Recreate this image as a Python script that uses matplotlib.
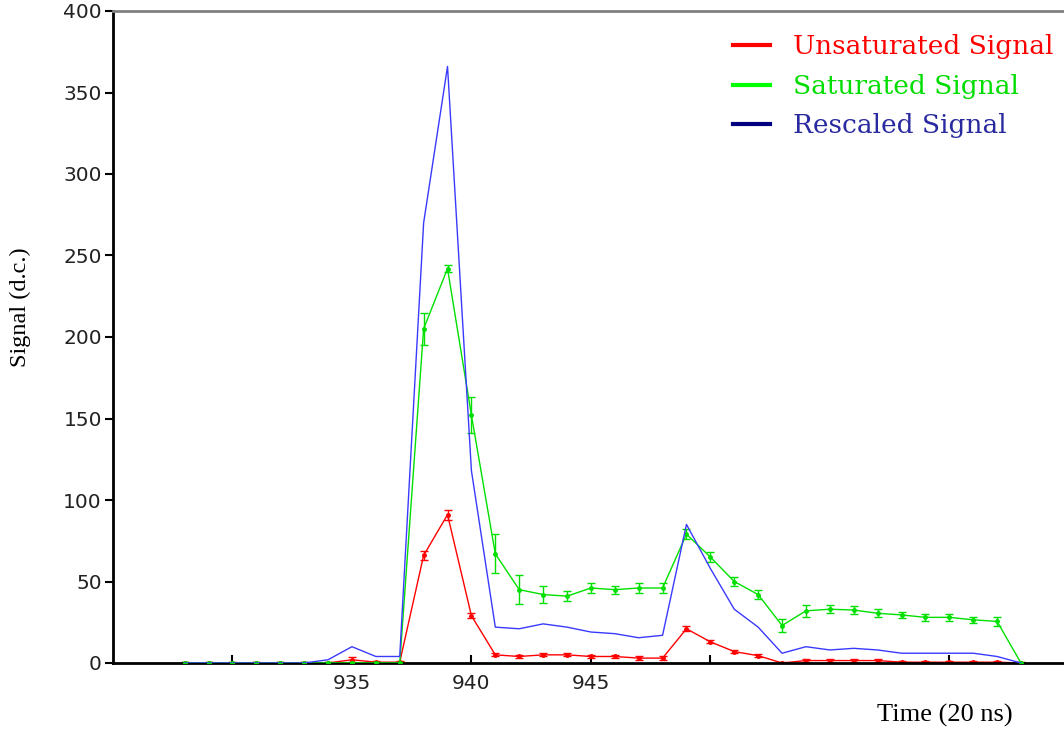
import numpy as np
import matplotlib
matplotlib.use("Agg")
import matplotlib.pyplot as plt
from matplotlib.lines import Line2D

# time bins (20 ns)
t = np.arange(928, 964)

unsat = [0, 0, 0, 0, 0, 0, 0, 2, 0.5, 0.5, 66, 91, 29, 5, 4, 5, 5, 4, 4, 3, 3,
         21, 13, 7, 4.5, 0, 1.5, 1.5, 1.5, 1.5, 0.5, 0.5, 0.5, 0.5, 0.5, 0]
unsat_err = [0.5, 0.5, 0.5, 0.5, 0.5, 0.5, 0.5, 1.5, 0.8, 0.8, 3, 3, 1.5, 1, 1, 1, 1, 1, 1, 1, 1,
             1.5, 1, 1, 1, 0.5, 1, 1, 1, 1, 0.8, 0.8, 0.8, 0.8, 0.8, 0.5]

sat = [0, 0, 0, 0, 0, 0, 0, 0, 0, 0, 205, 242, 152, 67, 45, 42, 41, 46, 45, 46, 46,
       79, 65, 50, 42, 23, 32, 33, 32.5, 30.5, 29.5, 28, 28, 26.5, 25.5, 0]
sat_err = [0.5, 0.5, 0.5, 0.5, 0.5, 0.5, 0.5, 0.5, 0.5, 0.5, 10, 2, 11, 12, 9, 5, 3, 3, 2.5, 3, 3,
           3, 3, 3, 3, 4, 3.5, 2.5, 2.5, 2.5, 2, 2, 2, 2, 2.5, 0.5]

rescaled = [0, 0, 0, 0, 0, 0, 2, 10, 4, 4, 270, 366, 118, 22, 21, 24, 22, 19, 18, 15.5, 17,
            85, 58, 33, 22, 6, 10, 8, 9, 8, 6, 6, 6, 6, 4, 0]

labels = ["Unsaturated Signal", "Saturated Signal", "Rescaled Signal"]

red = "#ff0000"
green = "#00e000"
blue = "#3a3aff"

fig = plt.figure(figsize=(10.64, 7.3), dpi=100)
ax = fig.add_axes([113 / 1064, 1 - 663 / 730, 951 / 1064, 652 / 730])

ax.plot(t, rescaled, color=blue, lw=1.0, zorder=3)
ax.errorbar(t, unsat, yerr=unsat_err, color=red, lw=1.0, marker=".", ms=5,
            capsize=3, elinewidth=1.0, capthick=1.0, zorder=2)
ax.errorbar(t, sat, yerr=sat_err, color=green, lw=1.0, marker=".", ms=5,
            capsize=3, elinewidth=1.0, capthick=1.0, zorder=2.5)

ax.set_xlim(925.0, 964.8)
ax.set_ylim(0, 400)

ax.set_xticks([930, 935, 940, 945, 950, 960])
ax.set_xticklabels(["", "935", "940", "945", "", ""])
ax.xaxis.get_major_ticks()[1].tick1line.set_visible(False)
ax.set_yticks(np.arange(0, 401, 50))
ax.tick_params(axis="x", direction="in", length=6, width=1.5, labelsize=14.5, pad=8)
ax.tick_params(axis="y", direction="out", length=6, width=1.5, labelsize=14.5, pad=2)
for lab in ax.get_xticklabels() + ax.get_yticklabels():
    lab.set_family("DejaVu Sans")
    lab.set_color("#222222")

ax.spines["right"].set_visible(False)
ax.spines["left"].set_linewidth(2)
ax.spines["bottom"].set_linewidth(2)
ax.spines["top"].set_linewidth(2)
ax.spines["top"].set_color("#808080")

ax.set_ylabel("Signal (d.c.)", family="Liberation Serif", fontsize=17.5)
ax.yaxis.set_label_coords(-0.086, 0.545)
fig.text(945 / 1064, 1 - 715 / 730, "Time (20 ns)", family="Liberation Serif",
         fontsize=19, ha="center", va="center")

handles = [Line2D([], [], color=red, lw=3),
           Line2D([], [], color="#00ff00", lw=3),
           Line2D([], [], color="#000080", lw=3)]
leg = ax.legend(handles, labels, loc="upper right", bbox_to_anchor=(0.9884, 0.964),
                frameon=False, prop={"family": "DejaVu Serif", "size": 19},
                labelcolor=[red, "#00dd00", "#2a2aa0"], borderpad=0, borderaxespad=0,
                handlelength=1.4, handletextpad=0.85, labelspacing=0.55)

fig.savefig("out.png", dpi=100)
